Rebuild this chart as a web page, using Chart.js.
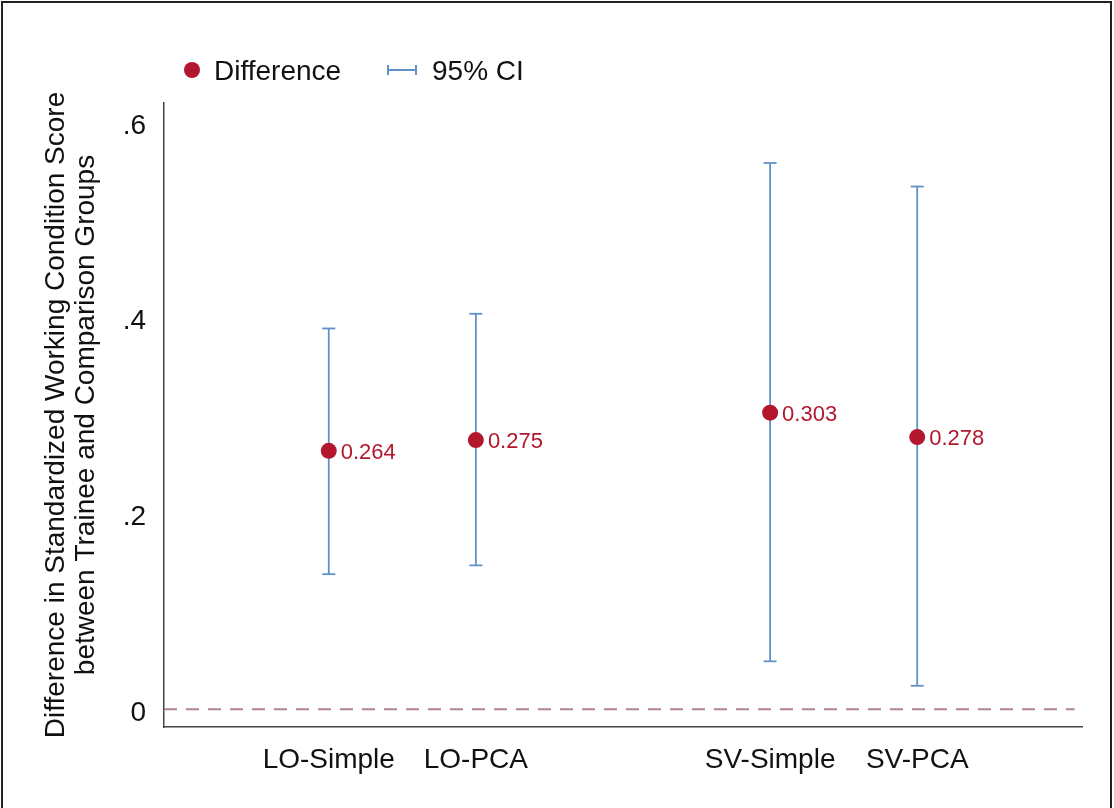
<!DOCTYPE html>
<html lang="en">
<head>
  <meta charset="UTF-8" />
  <title>Difference in Working Condition Score</title>
  <script src="https://cdn.jsdelivr.net/npm/chart.js"></script>
  <style>
    body {
      margin: 0;
      background: #fff;
      font-family: 'Liberation Sans', Arial, sans-serif;
    }
    #wrap {
      position: absolute;
      left: 0;
      top: 0;
      width: 1114px;
      height: 808px;
    }
    .frame {
      position: absolute;
      left: 1px;
      top: 1px;
      width: 1111px;
      height: 840px;
      border: 2px solid #222;
      box-sizing: border-box;
      pointer-events: none;
    }
  </style>
</head>
<body>
  <div id="wrap"><canvas id="ciChart" width="1114" height="808"></canvas></div>
  <div class="frame"></div>

  <script>
    // values
    const categories = ['LO-Simple', 'LO-PCA', 'SV-Simple', 'SV-PCA'];
    const positions = [1, 2, 4, 5];
    const differences = [0.264, 0.275, 0.303, 0.278];
    const ciLower = [0.138, 0.147, 0.049, 0.024];
    const ciUpper = [0.389, 0.404, 0.558, 0.534];
    const yTicks = [0, 0.2, 0.4, 0.6];
    const yTickLabels = ['0', '.2', '.4', '.6'];

    const red = '#b3172d';
    const blue = '#6192c7';
    const mauve = '#b38292';
    const fontFamily = "'Liberation Sans', Arial, sans-serif";

    const xMin = -0.12, xMax = 6.12;
    const zeroEnd = 6.07;

    // CI whiskers: one line per category, broken by null gaps
    const ciData = [];
    positions.forEach((p, i) => {
      ciData.push({ x: p, y: ciLower[i] });
      ciData.push({ x: p, y: ciUpper[i] });
      ciData.push({ x: p, y: null });
    });

    const pointLabels = {
      id: 'pointLabels',
      afterDatasetsDraw(chart) {
        const ctx = chart.ctx;
        const meta = chart.getDatasetMeta(0);
        ctx.save();
        ctx.font = '22px ' + fontFamily;
        ctx.fillStyle = red;
        ctx.textBaseline = 'middle';
        meta.data.forEach((pt, i) => {
          ctx.fillText(differences[i].toFixed(3), pt.x + 12, pt.y + 2);
        });
        ctx.restore();
      }
    };

    const topLegend = {
      id: 'topLegend',
      afterDraw(chart) {
        const ctx = chart.ctx;
        ctx.save();
        ctx.fillStyle = red;
        ctx.beginPath();
        ctx.arc(192, 70, 8, 0, Math.PI * 2);
        ctx.fill();
        ctx.strokeStyle = blue;
        ctx.lineWidth = 2;
        ctx.beginPath();
        ctx.moveTo(388, 70); ctx.lineTo(416, 70);
        ctx.moveTo(388, 65); ctx.lineTo(388, 75);
        ctx.moveTo(416, 65); ctx.lineTo(416, 75);
        ctx.stroke();
        ctx.fillStyle = '#111';
        ctx.font = '28px ' + fontFamily;
        ctx.textBaseline = 'middle';
        ctx.fillText('Difference', 214, 72);
        ctx.fillText('95% CI', 432, 72);
        ctx.restore();
      }
    };

    new Chart(document.getElementById('ciChart'), {
      type: 'scatter',
      data: {
        datasets: [
          {
            label: 'Difference',
            data: positions.map((p, i) => ({ x: p, y: differences[i] })),
            backgroundColor: red,
            borderWidth: 0,
            pointRadius: 8
          },
          {
            label: '95% CI',
            data: ciData,
            showLine: true,
            spanGaps: false,
            borderColor: blue,
            borderWidth: 1.8,
            pointStyle: 'line',
            pointRadius: 6.5,
            pointBorderColor: blue,
            pointBorderWidth: 1.8
          },
          {
            label: 'zero',
            data: [{ x: xMin, y: 0 }, { x: zeroEnd, y: 0 }],
            showLine: true,
            borderColor: mauve,
            borderWidth: 2,
            borderDash: [13, 9],
            pointRadius: 0
          }
        ]
      },
      options: {
        responsive: false,
        animation: false,
        layout: { padding: { left: 0, top: 103, right: 32, bottom: 0 } },
        plugins: {
          legend: { display: false },
          tooltip: { enabled: false }
        },
        scales: {
          x: {
            type: 'linear',
            min: xMin,
            max: xMax,
            afterBuildTicks: axis => { axis.ticks = positions.map(v => ({ value: v })); },
            afterFit: axis => { axis.height = 81; },
            grid: { display: false, drawTicks: false },
            border: { display: true, color: '#444', width: 1.5 },
            ticks: {
              autoSkip: false,
              maxRotation: 0,
              padding: 16,
              color: '#111',
              font: { family: fontFamily, size: 28 },
              callback: v => categories[positions.indexOf(v)]
            }
          },
          y: {
            min: -0.0181,
            max: 0.6193,
            afterBuildTicks: axis => { axis.ticks = yTicks.map(v => ({ value: v })); },
            afterFit: axis => { axis.width = 164; },
            grid: { display: false, drawTicks: false },
            border: { display: true, color: '#444', width: 1.5 },
            ticks: {
              padding: 18,
              labelOffset: 4,
              color: '#111',
              font: { family: fontFamily, size: 28 },
              callback: v => yTickLabels[yTicks.indexOf(v)]
            },
            title: {
              display: true,
              text: ['Difference in Standardized Working Condition Score',
                     'between Trainee and Comparison Groups'],
              color: '#111',
              font: { family: fontFamily, size: 28, lineHeight: 1.08 },
              padding: { top: 41, bottom: 0 }
            }
          }
        }
      },
      plugins: [pointLabels, topLegend]
    });
  </script>
</body>
</html>
